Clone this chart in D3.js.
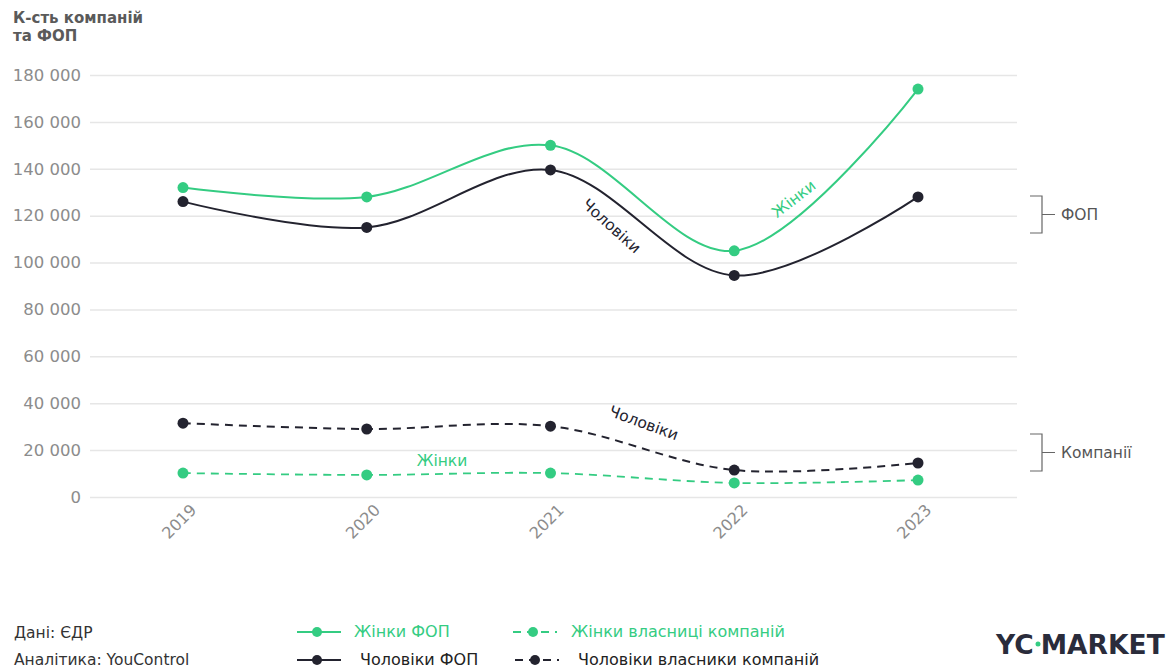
<!DOCTYPE html>
<html><head><meta charset="utf-8">
<script src="https://cdn.jsdelivr.net/npm/d3@7"></script>
<style>
html,body{margin:0;padding:0;background:#fff;}
svg{display:block;font-family:"DejaVu Sans", "Noto Sans", sans-serif;}
</style></head>
<body>
<svg id="c" width="1173" height="671"></svg>
<script>
const years = ["2019","2020","2021","2022","2023"];
const womenFop = [132000, 128000, 150000, 105000, 174000];
const menFop = [126000, 115000, 139500, 94500, 128000];
const menComp = [31500, 29000, 30200, 11500, 14500];
const womenComp = [10200, 9400, 10200, 6000, 7200];
const yTicks = [0,20000,40000,60000,80000,100000,120000,140000,160000,180000];
const yTitle = ["К-сть компаній","та ФОП"];
const legendNames = ["Жінки ФОП","Жінки власниці компаній","Чоловіки ФОП","Чоловіки власники компаній"];
const sourceLines = ["Дані: ЄДР","Аналітика: YouControl"];

const FONT = "DejaVu Sans, sans-serif";
const GREEN = "#34cc82", DARK = "#23232f", GRID = "#e6e6e6", TICK = "#8c8c8c";
const svg = d3.select("#c");
const x = d3.scalePoint().domain(years).range([183, 918]);
const y = d3.scaleLinear().domain([0,180000]).range([497, 75]);

// y-axis title
svg.append("g").selectAll("text").data(yTitle).join("text")
  .attr("x", 13).attr("y",(d,i)=>23+i*18)
  .attr("font-size",15).attr("font-weight",700).attr("fill","#5a5a5a").text(d=>d);

// grid + y ticks
const yAxis = d3.axisLeft(y).tickValues(yTicks).tickSize(-(1017-90))
  .tickFormat(d=>d3.format(",")(d).replace(/,/g," "));
const gy = svg.append("g").attr("transform","translate(90,0)").call(yAxis);
gy.select(".domain").remove();
gy.selectAll(".tick line").attr("stroke",GRID).attr("stroke-width",1.5);
gy.selectAll(".tick text").attr("x",-9).attr("fill",TICK).attr("font-size",16.5).attr("font-family",FONT);

// x axis labels
const xAxis = d3.axisBottom(x).tickSize(0);
const gx = svg.append("g").attr("transform","translate(0,505)").call(xAxis);
gx.select(".domain").remove();
gx.selectAll(".tick text").attr("fill",TICK).attr("font-size",16).attr("font-family",FONT)
  .attr("text-anchor","end").attr("y",0).attr("dx",0).attr("dy",0)
  .attr("transform","translate(14,6) rotate(-45)");

// lines
const line = d3.line().x((d,i)=>x(years[i])).y(d=>y(d)).curve(d3.curveCatmullRom.alpha(0.5));
const series = [
  {v: menComp, c: DARK, dash: "8,6", w:2},
  {v: womenComp, c: GREEN, dash: "8,6", w:1.8},
  {v: menFop, c: DARK, dash: null, w:2},
  {v: womenFop, c: GREEN, dash: null, w:2}
];
series.forEach(s=>{
  svg.append("path").attr("d", line(s.v)).attr("fill","none").attr("stroke",s.c)
    .attr("stroke-width",s.w).attr("stroke-dasharray",s.dash);
  svg.append("g").selectAll("circle").data(s.v).join("circle")
    .attr("cx",(d,i)=>x(years[i])).attr("cy",d=>y(d)).attr("r",5.5).attr("fill",s.c);
});

// in-chart labels
function lab(txt, px, py, rot, col){
  svg.append("text").attr("transform",`translate(${px},${py}) rotate(${rot})`)
    .attr("font-size",15.5).attr("fill",col).attr("text-anchor","middle").text(txt);
}
lab("Чоловіки", 608, 230, 42, DARK);
lab("Жінки", 797, 203, -38, GREEN);
lab("Чоловіки", 642, 428, 20, DARK);
lab("Жінки", 442, 466, 0, GREEN);

// brackets
function bracket(y0,y1,txt){
  const g = svg.append("g").attr("stroke","#666").attr("stroke-width",1.2).attr("fill","none");
  g.append("path").attr("d",`M1030,${y0} H1042 V${y1} H1030 M1042,${(y0+y1)/2} H1055`);
  svg.append("text").attr("x",1061).attr("y",(y0+y1)/2+5).attr("font-size",15.5)
    .attr("fill","#555").text(txt);
}
bracket(196, 233, "ФОП");
bracket(434, 471, "Компанії");

// footer source
svg.append("g").selectAll("text").data(sourceLines).join("text")
  .attr("x",14).attr("y",(d,i)=>638+i*27).attr("font-size",15.5).attr("fill","#333").text(d=>d);

// legend
const leg = [
  {n:legendNames[0], c:GREEN, dash:false, x:297, y:632, tx:354},
  {n:legendNames[1], c:GREEN, dash:true, x:513, y:632, tx:571},
  {n:legendNames[2], c:DARK, dash:false, x:297, y:660, tx:360},
  {n:legendNames[3], c:DARK, dash:true, x:515, y:660, tx:578}
];
leg.forEach(l=>{
  svg.append("line").attr("x1",l.x).attr("x2",l.x+44).attr("y1",l.y).attr("y2",l.y)
    .attr("stroke",l.c).attr("stroke-width",2).attr("stroke-dasharray",l.dash?"8,6":null);
  svg.append("circle").attr("cx",l.x+20).attr("cy",l.y).attr("r",5).attr("fill",l.c);
  svg.append("text").attr("x",l.tx).attr("y",l.y+5).attr("font-size",16).attr("fill",l.c===GREEN?GREEN:"#222").text(l.n);
});

// logo
const logo = svg.append("text").attr("x",996).attr("y",654).attr("font-size",26.5)
  .attr("font-weight",700).attr("fill","#2a2c3b").attr("font-family",FONT);
logo.append("tspan").text("YC");
logo.append("tspan").attr("dx",7).text("MARKET");
svg.append("circle").attr("cx",1038).attr("cy",644).attr("r",2.5).attr("fill",GREEN);
</script>
</body></html>
